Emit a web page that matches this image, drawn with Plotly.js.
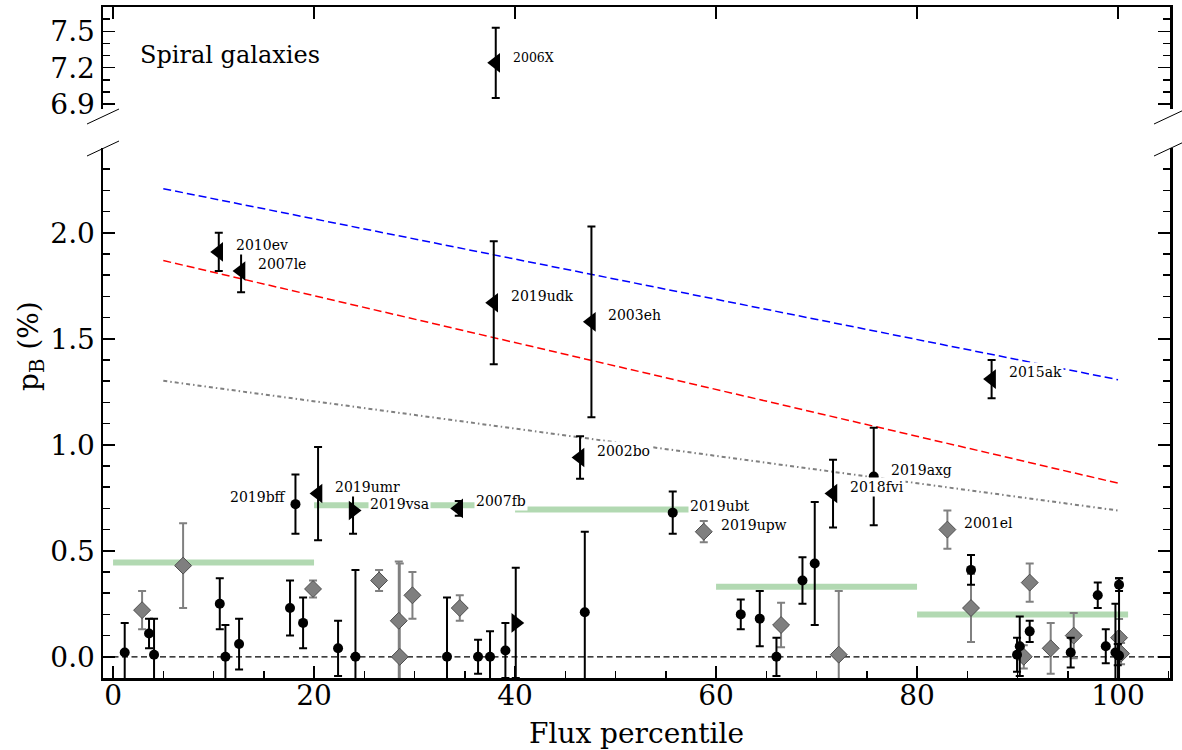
<!DOCTYPE html>
<html><head><meta charset="utf-8">
<script src="https://cdn.plot.ly/plotly-3.0.1.min.js"></script>
<style>html,body{margin:0;padding:0;background:#fff}</style>
</head><body><div id="chart" style="width:1182px;height:750px"></div>
<script>
// ---- data ----
const circX = [1.16, 3.58, 4.08, 10.62, 11.18, 12.54, 17.61, 18.91, 18.15, 22.39, 24.12, 33.23, 36.32, 37.51, 39.04, 46.94, 55.69, 62.46, 64.35, 66.01, 68.6, 69.82, 75.69, 85.37, 89.95, 90.22, 91.21, 95.29, 97.98, 98.78, 99.74, 100.1, 100.1, 99.97];
const circY = [0.02, 0.11, 0.01, 0.25, 0.0, 0.06, 0.23, 0.16, 0.72, 0.04, 0.0, 0.0, 0.0, 0.0, 0.03, 0.21, 0.68, 0.20, 0.18, 0.0, 0.36, 0.44, 0.85, 0.41, 0.01, 0.05, 0.12, 0.02, 0.29, 0.05, 0.02, 0.34, 0.005, 0.01];
const circErr = [0.14, 0.07, 0.17, 0.12, 0.15, 0.12, 0.13, 0.12, 0.14, 0.13, 0.41, 0.28, 0.08, 0.12, 0.13, 0.38, 0.10, 0.07, 0.13, 0.09, 0.11, 0.29, 0.23, 0.07, 0.08, 0.14, 0.05, 0.07, 0.06, 0.08, 0.23, 0.03, 0.365, 0.05];
const circLabel = ['', '', '', '', '', '', '', '', '2019bff', '', '', '', '', '', '', '', '2019ubt', '', '', '', '', '', '2019axg', '', '', '', '', '', '', '', '', '', '', ''];

const diaX = [2.89, 6.97, 19.9, 26.47, 28.43, 28.53, 29.79, 34.5, 58.78, 66.47, 72.21, 83.02, 85.37, 90.62, 91.21, 93.3, 95.59, 100.1, 100.3];
const diaY = [0.22, 0.43, 0.32, 0.36, 0.17, 0.0, 0.29, 0.23, 0.59, 0.15, 0.01, 0.60, 0.23, 0.0, 0.35, 0.04, 0.10, 0.09, 0.015];
const diaErr = [0.09, 0.20, 0.04, 0.05, 0.28, 0.44, 0.11, 0.06, 0.05, 0.105, 0.30, 0.09, 0.16, 0.055, 0.09, 0.12, 0.107, 0.088, 0.05];
const diaLabel = ['', '', '', '', '', '', '', '', '2019upw', '', '', '2001el', '', '', '', '', '', '', ''];

const triLX = [10.52, 12.74, 37.88, 47.6, 87.42, 46.47, 71.64, 20.4, 34.4];
const triLY = [1.91, 1.82, 1.67, 1.58, 1.31, 0.94, 0.77, 0.77, 0.70];
const triLErr = [0.09, 0.10, 0.29, 0.45, 0.09, 0.10, 0.16, 0.22, 0.035];
const triLLabel = ['2010ev', '2007le', '2019udk', '2003eh', '2015ak', '2002bo', '2018fvi', '2019umr', '2007fb'];

const triRX = [23.88, 40.07];
const triRY = [0.69, 0.16];
const triRErr = [0.11, 0.26];
const triRLabel = ['2019vsa', ''];

const topX = [38.08];
const topY = [7.24];
const topErr = [0.29];
const topLabel = ['2006X'];

const binLo = [0, 20, 40, 60, 80];
const binHi = [20, 40, 60, 80, 101];
const binVal = [0.445, 0.715, 0.695, 0.33, 0.20];

const fitX = [5, 100];
const blueY = [2.208, 1.307];
const redY = [1.869, 0.819];
const grayY = [1.302, 0.69];

const xTicks = [0, 20, 40, 60, 80, 100];
const panelText = 'Spiral galaxies';
const zeroLevel = 0;

// ---- layout helpers ----
const W = 1182, H = 750, ML = 103, MR = 12, MT = 7, MB = 72;
const PW = W - ML - MR, PH = H - MT - MB;
const px = v => (v - ML) / PW;
const py = v => (H - MB - v) / PH;
const FONT = 'DejaVu Serif';

const binXs = [], binYs = [];
binLo.forEach((lo, i) => { binXs.push(lo, binHi[i], null); binYs.push(binVal[i], binVal[i], null); });

const traces = [
  {x: binXs, y: binYs, mode: 'lines', line: {color: 'rgba(0,128,0,0.3)', width: 6}, xaxis: 'x', yaxis: 'y', hoverinfo: 'skip'},
  {x: fitX, y: blueY, mode: 'lines', line: {color: '#0000ff', width: 1.5, dash: '8px,4px'}, xaxis: 'x', yaxis: 'y'},
  {x: fitX, y: redY, mode: 'lines', line: {color: '#ff0000', width: 1.5, dash: '8px,4px'}, xaxis: 'x', yaxis: 'y'},
  {x: fitX, y: grayY, mode: 'lines', line: {color: '#808080', width: 2, dash: '4px,3px,1.5px,3px'}, xaxis: 'x', yaxis: 'y'},
  {x: diaX, y: diaY, mode: 'markers', xaxis: 'x', yaxis: 'y',
   marker: {symbol: 'diamond', size: 13, color: '#7f7f7f', line: {color: '#4d4d4d', width: 1}},
   error_y: {type: 'data', array: diaErr, visible: true, color: '#808080', thickness: 2, width: 4}},
  {x: circX, y: circY, mode: 'markers', xaxis: 'x', yaxis: 'y',
   marker: {symbol: 'circle', size: 10, color: '#000'},
   error_y: {type: 'data', array: circErr, visible: true, color: '#000', thickness: 2, width: 4}},
  {x: triLX, y: triLY, mode: 'markers', xaxis: 'x', yaxis: 'y',
   marker: {symbol: 'triangle-left', size: 17, color: '#000'},
   error_y: {type: 'data', array: triLErr, visible: true, color: '#000', thickness: 2, width: 4}},
  {x: triRX, y: triRY, mode: 'markers', xaxis: 'x', yaxis: 'y',
   marker: {symbol: 'triangle-right', size: 17, color: '#000'},
   error_y: {type: 'data', array: triRErr, visible: true, color: '#000', thickness: 2, width: 4}},
  {x: topX, y: topY, mode: 'markers', xaxis: 'x2', yaxis: 'y2',
   marker: {symbol: 'triangle-left', size: 17, color: '#000'},
   error_y: {type: 'data', array: topErr, visible: true, color: '#000', thickness: 2, width: 4}}
];

const annotations = [];
function addLabels(xs, ys, labels, xref, yref, size, yshift) {
  labels.forEach((t, i) => {
    if (!t) return;
    const left = t === '2019bff';
    annotations.push({x: xs[i], y: ys[i], xref, yref, text: t, showarrow: false,
      xanchor: left ? 'right' : 'left', yanchor: 'middle',
      xshift: left ? -7 : 15, yshift: yshift,
      font: {family: FONT, size: size, color: '#000'}, bgcolor: '#fff', borderpad: 1});
  });
}
addLabels(circX, circY, circLabel, 'x', 'y', 14, 7);
addLabels(diaX, diaY, diaLabel, 'x', 'y', 14, 7);
addLabels(triLX, triLY, triLLabel, 'x', 'y', 14, 7);
addLabels(triRX, triRY, triRLabel, 'x', 'y', 14, 7);
addLabels(topX, topY, topLabel, 'x2', 'y2', 12.5, 5);

annotations.push({x: px(138), y: py(55), xref: 'paper', yref: 'paper', text: panelText, showarrow: false,
  xanchor: 'left', yanchor: 'middle', font: {family: FONT, size: 24, color: '#000'}});
annotations.push({x: 0.5, y: py(733), xref: 'paper', yref: 'paper', text: 'Flux percentile', showarrow: false,
  xanchor: 'center', yanchor: 'middle', font: {family: FONT, size: 28, color: '#000'}});
annotations.push({x: px(31), y: py(346), xref: 'paper', yref: 'paper', text: 'p<sub>B</sub> (%)', showarrow: false,
  textangle: -90, xanchor: 'center', yanchor: 'middle', font: {family: FONT, size: 28, color: '#000'}});

const brk = (x0, y0, x1, y1) => ({type: 'line', xref: 'paper', yref: 'paper', x0: px(x0), y0: py(y0), x1: px(x1), y1: py(y1), line: {color: '#000', width: 1}});
const shapes = [
  {type: 'line', xref: 'paper', yref: 'y', x0: 0, x1: 1, y0: zeroLevel, y1: zeroLevel, layer: 'below', line: {color: '#000', width: 1.2, dash: '6px,3.5px'}},
  brk(87, 124, 119, 109), brk(87, 156, 119, 141),
  brk(1154, 124, 1186, 109), brk(1154, 156, 1186, 141)
];

const axBase = {showline: true, linecolor: '#000', linewidth: 2.5, showgrid: false, zeroline: false,
  ticks: 'inside', ticklen: 12, tickwidth: 1.5, tickcolor: '#000',
  tickfont: {family: FONT, size: 28, color: '#000'}};

const layout = {
  width: W, height: H, margin: {l: ML, r: MR, t: MT, b: MB, pad: 0},
  paper_bgcolor: '#fff', plot_bgcolor: 'rgba(0,0,0,0)', showlegend: false,
  xaxis: Object.assign({}, axBase, {domain: [0, 1], range: [-1, 105.17], anchor: 'y', tickmode: 'array', tickvals: xTicks,
    ticklabelstandoff: -9,
    minor: {dtick: 5, tick0: 0, ticks: 'inside', ticklen: 7, tickwidth: 1.5, tickcolor: '#000'}}),
  yaxis: Object.assign({}, axBase, {domain: [0, py(148)], range: [-0.1, 2.4], anchor: 'x', mirror: 'ticks',
    tickmode: 'linear', tick0: 0, dtick: 0.5, tickformat: '.1f',
    minor: {dtick: 0.1, tick0: 0, ticks: 'inside', ticklen: 7, tickwidth: 1.5, tickcolor: '#000'}}),
  xaxis2: Object.assign({}, axBase, {domain: [0, 1], range: [-1, 105.17], anchor: 'y2', side: 'top', tickmode: 'array', tickvals: xTicks, showticklabels: false}),
  yaxis2: Object.assign({}, axBase, {domain: [py(109), 1], range: [6.86, 7.7], anchor: 'x2', mirror: 'ticks',
    tickmode: 'linear', tick0: 6.9, dtick: 0.3, tickformat: '.1f',
    minor: {dtick: 0.1, tick0: 6.9, ticks: 'inside', ticklen: 7, tickwidth: 1.5, tickcolor: '#000'}}),
  annotations: annotations,
  shapes: shapes
};

Plotly.newPlot('chart', traces, layout, {displayModeBar: false, staticPlot: true});
</script></body></html>
